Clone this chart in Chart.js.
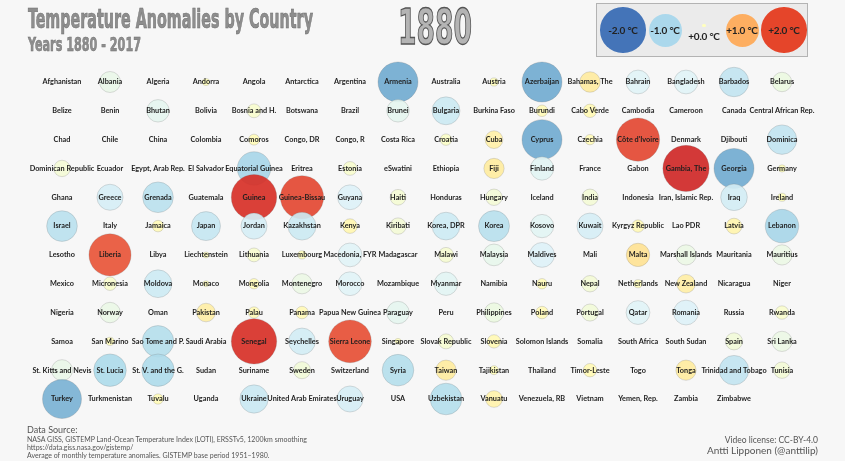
<!DOCTYPE html>
<html><head><meta charset="utf-8">
<script src="https://cdn.jsdelivr.net/npm/chart.js@4/dist/chart.umd.min.js"></script>
<style>
html,body{margin:0;padding:0;background:#f7f7f7;}
#wrap{position:relative;width:845px;height:461px;overflow:hidden;font-family:Lato,"Open Sans",sans-serif;background:#f7f7f7;}
canvas{position:absolute;left:0;top:0;}
.abs{position:absolute;white-space:nowrap;transform-origin:0 0;}
.cond{font-family:"Liberation Sans Narrow","DejaVu Sans Condensed","Roboto Condensed",sans-serif;font-weight:bold;}
#title{left:28px;top:4px;font-size:26px;line-height:30px;color:#8e8e8e;-webkit-text-stroke:0.6px #6c6c6c;}
#subtitle{left:28px;top:33px;font-size:19px;line-height:22px;color:#8e8e8e;-webkit-text-stroke:0.5px #6c6c6c;}
#year{left:398px;top:0px;font-size:50px;line-height:54px;color:#b4b4b4;-webkit-text-stroke:1.3px #555;}
#legend{position:absolute;left:596px;top:3px;width:210px;height:52px;background:#ebebeb;border:1px solid #b3b3b3;}
.lc{position:absolute;border-radius:50%;}
.lt{position:absolute;font-weight:bold;font-size:10px;color:#222;transform:translate(-50%,-50%);white-space:nowrap;letter-spacing:-0.2px;}
.foot{position:absolute;color:#555;white-space:nowrap;}
</style></head><body>
<div id="wrap">
<canvas id="c" width="845" height="461"></canvas>
<div id="title" class="abs cond" data-w="285">Temperature Anomalies by Country</div>
<div id="subtitle" class="abs cond" data-w="113">Years 1880 - 2017</div>
<div id="year" class="abs cond" data-w="74">1880</div>
<div id="legend"></div>
<div class="foot" style="left:27px;top:424px;font-size:9px;">Data Source:</div>
<div class="foot" style="left:27px;top:435px;font-size:7px;">NASA GISS, GISTEMP Land-Ocean Temperature Index (LOTI), ERSSTv5, 1200km smoothing</div>
<div class="foot" style="left:27px;top:443px;font-size:7px;">https://data.giss.nasa.gov/gistemp/</div>
<div class="foot" style="left:27px;top:451px;font-size:7px;">Average of monthly temperature anomalies. GISTEMP base period 1951–1980.</div>
<div class="foot" style="right:27px;top:435px;font-size:8.5px;text-align:right;">Video license: CC-BY-4.0</div>
<div class="foot" style="right:27px;top:444px;font-size:10px;text-align:right;">Antti Lipponen (@anttilip)</div>
</div>
<script>
// ---- data ----
const countries = [
"Afghanistan","Albania","Algeria","Andorra","Angola","Antarctica","Argentina","Armenia","Australia","Austria","Azerbaijan","Bahamas, The","Bahrain","Bangladesh","Barbados","Belarus",
"Belize","Benin","Bhutan","Bolivia","Bosnia and H.","Botswana","Brazil","Brunei","Bulgaria","Burkina Faso","Burundi","Cabo Verde","Cambodia","Cameroon","Canada","Central African Rep.",
"Chad","Chile","China","Colombia","Comoros","Congo, DR","Congo, R","Costa Rica","Croatia","Cuba","Cyprus","Czechia","Côte d'Ivoire","Denmark","Djibouti","Dominica",
"Dominican Republic","Ecuador","Egypt, Arab Rep.","El Salvador","Equatorial Guinea","Eritrea","Estonia","eSwatini","Ethiopia","Fiji","Finland","France","Gabon","Gambia, The","Georgia","Germany",
"Ghana","Greece","Grenada","Guatemala","Guinea","Guinea-Bissau","Guyana","Haiti","Honduras","Hungary","Iceland","India","Indonesia","Iran, Islamic Rep.","Iraq","Ireland",
"Israel","Italy","Jamaica","Japan","Jordan","Kazakhstan","Kenya","Kiribati","Korea, DPR","Korea","Kosovo","Kuwait","Kyrgyz Republic","Lao PDR","Latvia","Lebanon",
"Lesotho","Liberia","Libya","Liechtenstein","Lithuania","Luxembourg","Macedonia, FYR","Madagascar","Malawi","Malaysia","Maldives","Mali","Malta","Marshall Islands","Mauritania","Mauritius",
"Mexico","Micronesia","Moldova","Monaco","Mongolia","Montenegro","Morocco","Mozambique","Myanmar","Namibia","Nauru","Nepal","Netherlands","New Zealand","Nicaragua","Niger",
"Nigeria","Norway","Oman","Pakistan","Palau","Panama","Papua New Guinea","Paraguay","Peru","Philippines","Poland","Portugal","Qatar","Romania","Russia","Rwanda",
"Samoa","San Marino","Sao Tome and P.","Saudi Arabia","Senegal","Seychelles","Sierra Leone","Singapore","Slovak Republic","Slovenia","Solomon Islands","Somalia","South Africa","South Sudan","Spain","Sri Lanka",
"St. Kitts and Nevis","St. Lucia","St. V. and the G.","Sudan","Suriname","Sweden","Switzerland","Syria","Taiwan","Tajikistan","Thailand","Timor-Leste","Togo","Tonga","Trinidad and Tobago","Tunisia",
"Turkey","Turkmenistan","Tuvalu","Uganda","Ukraine","United Arab Emirates","Uruguay","USA","Uzbekistan","Vanuatu","Venezuela, RB","Vietnam","Yemen, Rep.","Zambia","Zimbabwe"
];
// anomaly (°C) for 1880, null = no data
const anomalies = [
null,-0.36,null,0.02,null,null,null,-1.52,null,0.03,-1.52,0.34,-0.48,-0.48,-0.78,-0.30,
null,null,-0.42,null,-0.13,null,null,-0.42,-0.69,null,0.08,0.12,null,null,null,null,
null,null,null,null,0.07,null,null,null,-0.08,0.24,-1.52,0.06,1.80,null,null,-0.78,
-0.20,null,null,null,-1.03,null,-0.13,null,null,0.33,-0.46,null,null,2.08,-1.52,0.02,
null,-0.59,-0.85,null,2.00,1.80,-0.53,-0.18,null,-0.20,null,-0.20,null,null,-0.62,0.03,
-0.85,null,0.08,-0.75,-0.59,-0.69,0.15,-0.20,-0.68,-0.87,-0.46,-0.59,0.10,null,0.18,-1.03,
null,1.70,null,0.01,-0.13,0.03,-0.48,null,-0.16,-0.39,-0.53,null,0.46,-0.33,null,-0.33,
null,-0.12,-0.68,0.01,0.06,-0.33,-0.48,null,-0.46,null,0.06,-0.20,0.03,0.27,null,null,
null,-0.34,null,0.27,0.08,0.10,null,-0.42,null,-0.30,0.10,-0.22,-0.48,-0.53,null,-0.12,
null,0.03,-0.91,null,2.00,-0.62,1.75,0.01,-0.16,0.12,null,null,null,null,-0.22,-0.33,
-0.36,-0.97,-0.96,null,null,-0.22,null,-0.91,0.33,0.04,null,0.12,null,0.33,-0.78,-0.20,
-1.44,null,0.06,null,-0.71,null,-0.59,null,-0.91,0.21,null,null,null,null,null
];
const legendValues = [-2, -1, 0, 1, 2];
const legendLabels = ["-2.0 °C","-1.0 °C","+0.0 °C","+1.0 °C","+2.0 °C"];
const COLS = 16, ROWS = 12;

// ---- styling helpers ----
const stops = ['#a50026','#d73027','#f46d43','#fdae61','#fee090','#ffffbf','#e0f3f8','#abd9e9','#74add1','#4575b4','#313695'];
function hex(h){return [parseInt(h.slice(1,3),16),parseInt(h.slice(3,5),16),parseInt(h.slice(5,7),16)];}
function colorOf(v, a){
  let t = 0.5 - v/5; t = Math.max(0, Math.min(1, t));
  const f = t*10, i = Math.min(9, Math.floor(f)), u = f - i;
  const c0 = hex(stops[i]), c1 = hex(stops[i+1]);
  const c = c0.map((x,k)=>Math.round(x + (c1[k]-x)*u));
  return `rgba(${c[0]},${c[1]},${c[2]},${a})`;
}
function radiusOf(v){ return v == null ? 0 : 1.5 + 15*Math.sqrt(Math.abs(v)); }

// ---- chart ----
const points = countries.map((n,i)=>({x: i % COLS, y: Math.floor(i / COLS)}));

const labelPlugin = {
  id: 'labels',
  afterDatasetsDraw(chart){
    const ctx = chart.ctx, xs = chart.scales.x, ys = chart.scales.y;
    ctx.save();
    ctx.font = 'bold 7.3px Lato, "Open Sans", sans-serif';
    ctx.fillStyle = '#1e1e1e';
    ctx.textAlign = 'center';
    ctx.textBaseline = 'middle';
    countries.forEach((n,i)=>{
      ctx.fillText(n, xs.getPixelForValue(points[i].x), ys.getPixelForValue(points[i].y));
    });
    ctx.restore();
  }
};

new Chart(document.getElementById('c'), {
  type: 'bubble',
  data: { datasets: [{
    data: points,
    radius: c => radiusOf(anomalies[c.dataIndex]),
    backgroundColor: c => colorOf(anomalies[c.dataIndex] ?? 0, 0.92),
    borderColor: c => 'rgba(110,110,110,0.22)',
    borderWidth: 1,
    clip: false
  }]},
  options: {
    responsive: false,
    animation: false,
    events: [],
    layout: { padding: { left: 62, right: 63, top: 82, bottom: 62 } },
    plugins: { legend: { display: false }, tooltip: { enabled: false } },
    scales: {
      x: { type: 'linear', display: false, min: 0, max: COLS - 1 },
      y: { type: 'linear', display: false, min: 0, max: ROWS - 1, reverse: true }
    }
  },
  plugins: [labelPlugin]
});

// ---- legend (HTML) ----
const lg = document.getElementById('legend');
const lx = [26, 68, 107, 145, 187];
legendValues.forEach((v,k)=>{
  const r = v === 0 ? 1.6 : radiusOf(v);
  const d = document.createElement('div');
  d.className = 'lc';
  const cy = v === 0 ? 21.5 : 26;
  d.style.cssText = `left:${lx[k]-r}px;top:${cy-r}px;width:${2*r}px;height:${2*r}px;background:${v===0?'#ffffbf':({'-2':'#4474b8','-1':'#abd8ec','1':'#fdae61','2':'#e5452a'})[v]};`;
  lg.appendChild(d);
  const t = document.createElement('div');
  t.className = 'lt';
  t.textContent = legendLabels[k];
  t.style.left = lx[k] + 'px';
  t.style.top = (v === 0 ? 32 : 26) + 'px';
  lg.appendChild(t);
});

// fit condensed titles to measured widths
function fit(){
  document.querySelectorAll('[data-w]').forEach(el=>{
    el.style.transform = 'none';
    const w = el.getBoundingClientRect().width;
    el.style.transform = `scaleX(${(+el.dataset.w)/w})`;
  });
}
fit();
if (document.fonts && document.fonts.ready) document.fonts.ready.then(fit);
</script>
</body></html>
